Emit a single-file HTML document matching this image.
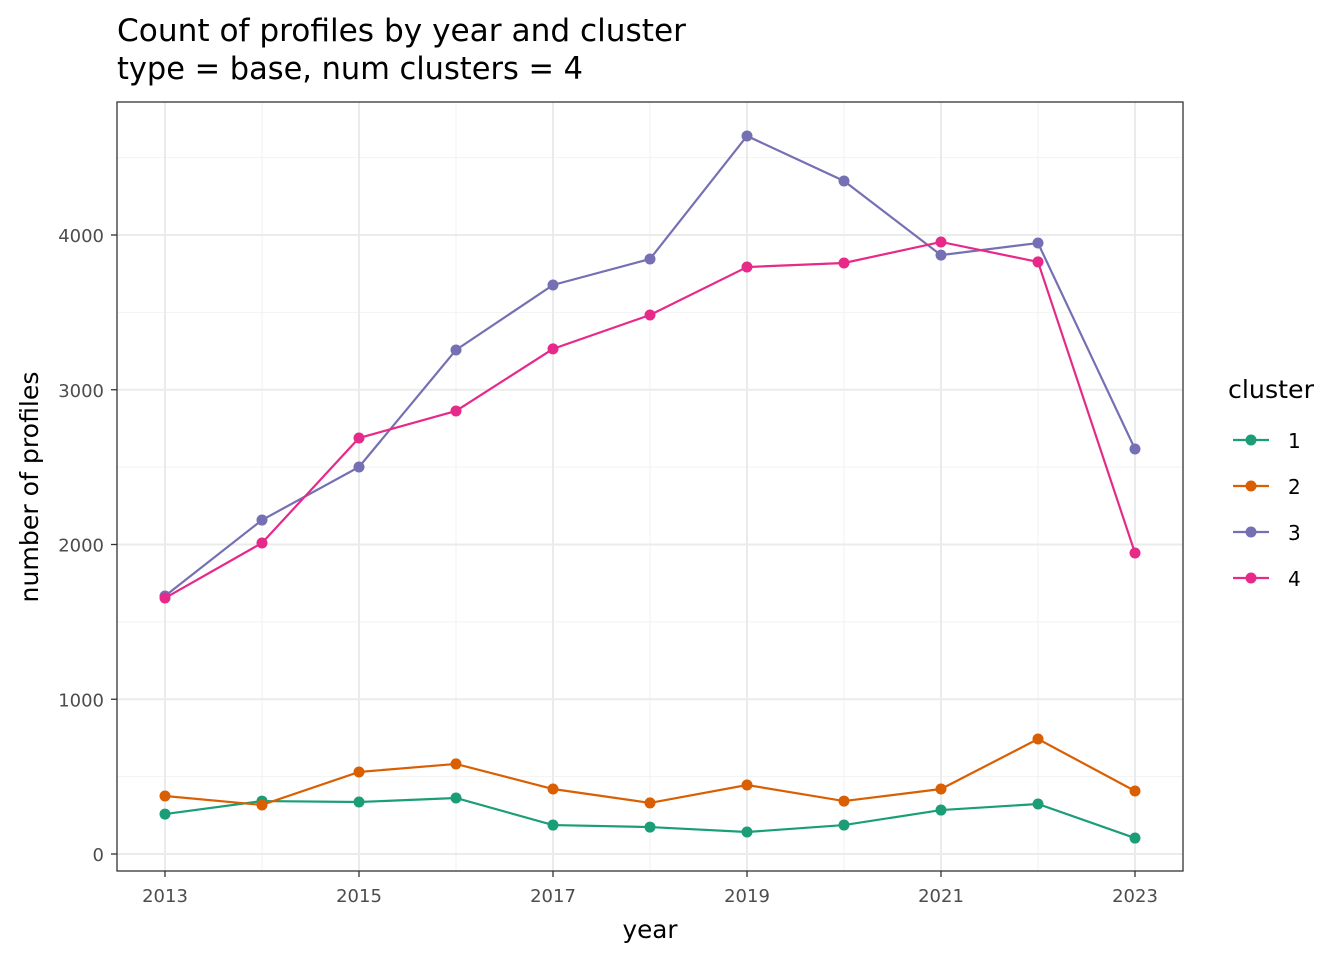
<!DOCTYPE html>
<html><head><meta charset="utf-8"><style>
body{margin:0;background:#fff;font-family:"DejaVu Sans","Liberation Sans",sans-serif}
svg text{font-family:"DejaVu Sans","Liberation Sans",sans-serif}
</style></head><body>
<svg id="chart" width="1344" height="960" xmlns="http://www.w3.org/2000/svg">
<text x="117" y="41" font-size="31" fill="#000" textLength="569" lengthAdjust="spacingAndGlyphs">Count of profiles by year and cluster</text>
<text x="117" y="79" font-size="31" fill="#000" textLength="466" lengthAdjust="spacingAndGlyphs">type = base, num clusters = 4</text>
<g id="grid"></g>
<g id="marks"></g>
<rect x="117" y="102" width="1066" height="769" fill="none" stroke="#333" stroke-width="1.3"/>
<g id="axes"></g>
<text x="650" y="938" font-size="25" text-anchor="middle" textLength="55" lengthAdjust="spacingAndGlyphs">year</text>
<text transform="translate(38,487) rotate(-90)" font-size="25" text-anchor="middle" textLength="231" lengthAdjust="spacingAndGlyphs">number of profiles</text>
<g id="legend">
<text x="1228" y="398" font-size="25" textLength="86" lengthAdjust="spacingAndGlyphs">cluster</text>
</g>
</svg>
<script>
const years = [2013,2014,2015,2016,2017,2018,2019,2020,2021,2022,2023];
const cluster1 = [258,342,336,362,187,174,142,187,284,323,103];
const cluster2 = [375,317,530,582,420,330,446,342,420,743,407];
const cluster3 = [1667,2158,2501,3257,3677,3845,4640,4349,3870,3948,2617];
const cluster4 = [1654,2010,2688,2863,3264,3483,3793,3819,3955,3826,1945];
const seriesNames = ["1","2","3","4"];
const colors = ["#1B9E77","#D95F02","#7570B3","#E7298A"];
const xTicks = [2013,2015,2017,2019,2021,2023];
const yTicks = [0,1000,2000,3000,4000];

const NS="http://www.w3.org/2000/svg";
const x = v => 165 + (v-2013)*97;
const y = v => 854 - v*0.15475;
function mk(tag, attrs, parent){const e=document.createElementNS(NS,tag);for(const k in attrs)e.setAttribute(k,attrs[k]);parent.appendChild(e);return e;}
const grid=document.getElementById('grid'), marks=document.getElementById('marks'), axes=document.getElementById('axes'), legend=document.getElementById('legend');

for(let v=500; v<=4500; v+=1000){const l=mk('line',{x1:117,x2:1183,y1:y(v),y2:y(v),stroke:'#f2f2f2','stroke-width':1},grid);

}
for(let v=2014; v<=2022; v+=2){const l=mk('line',{x1:x(v),x2:x(v),y1:102,y2:871,stroke:'#f2f2f2','stroke-width':1},grid);

}
yTicks.forEach(v=>{const l=mk('line',{x1:117,x2:1183,y1:y(v),y2:y(v),stroke:'#ebebeb','stroke-width':2},grid);


const t=mk('line',{x1:111,x2:117,y1:y(v),y2:y(v),stroke:'#333','stroke-width':1.3},axes);


const tx=mk('text',{x:104,y:y(v)+7,'font-size':18,fill:'#4d4d4d','text-anchor':'end'},axes);tx.textContent=v;

});
xTicks.forEach(v=>{const l=mk('line',{x1:x(v),x2:x(v),y1:102,y2:871,stroke:'#ebebeb','stroke-width':2},grid);


const t=mk('line',{x1:x(v),x2:x(v),y1:871,y2:877,stroke:'#333','stroke-width':1.3},axes);


const tx=mk('text',{x:x(v),y:902,'font-size':18,fill:'#4d4d4d','text-anchor':'middle'},axes);tx.textContent=v;

});

[cluster1,cluster2,cluster3,cluster4].forEach((s,i)=>{
  const g=mk('g',{},marks);
  
  
  const p=mk('polyline',{points:s.map((v,j)=>x(years[j])+','+y(v)).join(' '),fill:'none',stroke:colors[i],'stroke-width':2.2},g);
  
  
  s.forEach((v,j)=>{const c=mk('circle',{cx:x(years[j]),cy:y(v),r:5.5,fill:colors[i]},g);
  
  });
  const ly=440+i*46;
  const ll=mk('line',{x1:1233,x2:1269,y1:ly,y2:ly,stroke:colors[i],'stroke-width':2.2},legend);
  
  
  const lc=mk('circle',{cx:1251,cy:ly,r:5.5,fill:colors[i]},legend);
  
  
  const lt=mk('text',{x:1288,y:ly+8,'font-size':20},legend);lt.textContent=seriesNames[i];
  
  
});
</script>
</body></html>
